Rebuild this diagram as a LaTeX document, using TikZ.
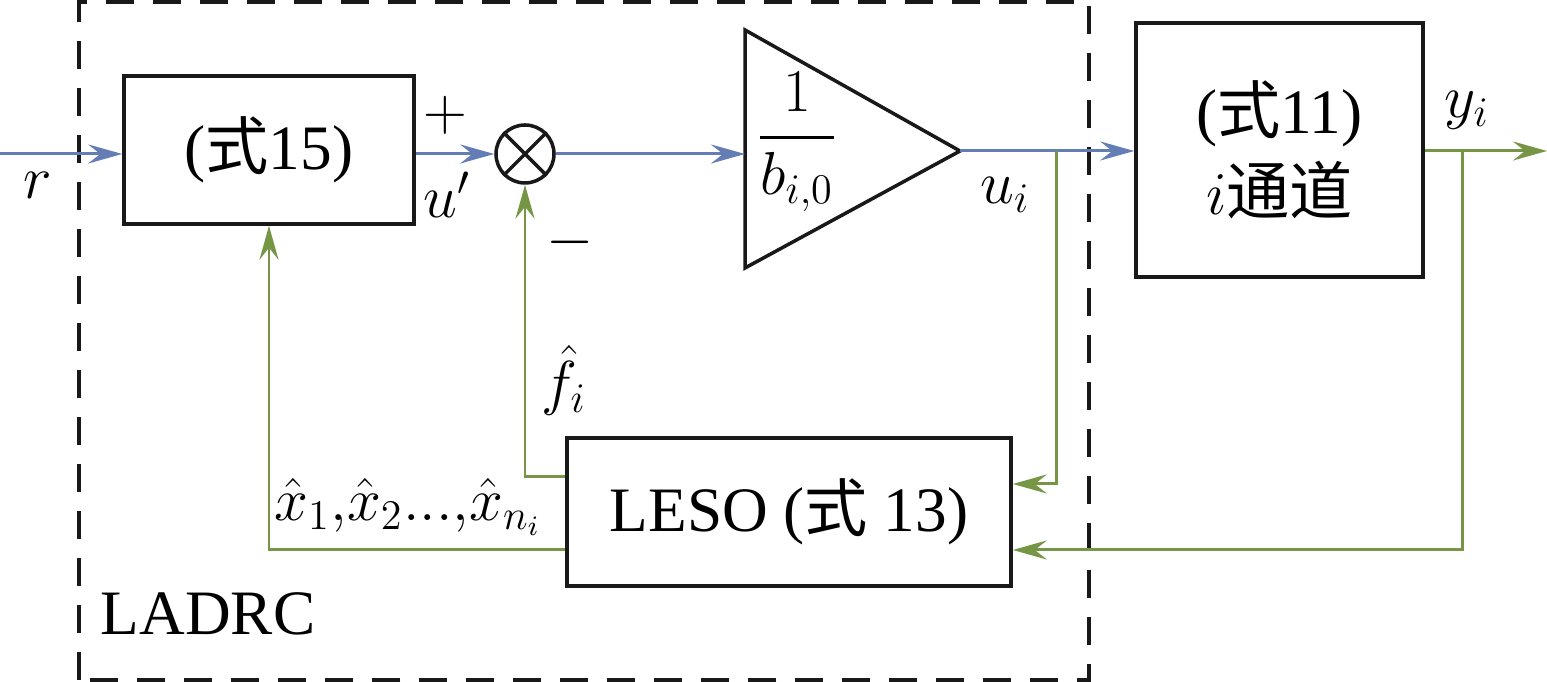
\documentclass[tikz,border=0pt]{standalone}
\usepackage{amsmath}
\usepackage{fontspec}
\setmainfont{Liberation Serif}
\newfontfamily\cjk{Noto Sans CJK SC}
\usepackage{tikz}
\usetikzlibrary{arrows.meta,calc}
\definecolor{sigblue}{RGB}{100,125,180}
\definecolor{fbgreen}{RGB}{118,150,70}

\begin{document}
\begin{tikzpicture}[
    block/.style={draw=black!90, rectangle, line width=1pt, align=center, inner sep=0pt, font=\fontsize{18}{21}\selectfont},
    sumnode/.style={draw=black!90, circle, line width=1pt, minimum size=0.58cm, inner sep=0pt},
    fwd/.style={-{Stealth[length=3.4mm, width=1.9mm, inset=1.2mm]}, line width=0.85pt, draw=sigblue},
    fb/.style={-{Stealth[length=3.4mm, width=1.9mm, inset=1.2mm]}, line width=0.85pt, draw=fbgreen},
    lbl/.style={inner sep=0pt, font=\fontsize{18}{21}\selectfont},
    frame/.style={draw=black!90, line width=0.9pt, dash pattern=on 2.8mm off 1.9mm}
]
    \useasboundingbox (0,0) rectangle (15.47,6.82);

    % LADRC frame
    \draw[frame] (0.79,0.02) rectangle (10.89,6.80);
    \node[lbl] (ladrc) at (2.08,0.68) {LADRC};

    % blocks
    \node[block, minimum width=2.90cm, minimum height=1.48cm] (eq15) at (2.69,5.32) {({\cjk 式}15)};
    \node[sumnode] (sum) at (5.25,5.28) {};
    \draw[line width=1pt, draw=black!90] (sum.45) -- (sum.225) (sum.135) -- (sum.-45);

    \coordinate (gin) at (7.45,5.28);
    \coordinate (gout) at (9.60,5.31);
    \draw[line width=1pt, draw=black!90, line join=miter] (7.45,6.52) -- (7.45,4.14) -- (gout) -- cycle;
    \node[lbl] (gainval) at (7.97,5.40) {$\dfrac{1}{b_{i,0}}$};

    \node[block, minimum width=2.87cm, minimum height=2.54cm] (eq11) at (12.795,5.32) {({\cjk 式}11)\\[2pt]$i${\cjk 通道}};
    \node[block, minimum width=4.44cm, minimum height=1.48cm] (leso) at (7.89,1.70) {LESO ({\cjk 式} 13)};

    % signal path
    \coordinate (rin) at (0,5.28);
    \coordinate (yout) at (15.47,5.31);
    \coordinate (ubr) at (10.56,5.31);
    \coordinate (ybr) at (14.62,5.31);

    \draw[fwd] (rin) -- (eq15.west |- rin);
    \draw[fwd] (eq15.east |- sum) -- (sum.west);
    \draw[fwd] (sum.east) -- (gin);
    \draw[fwd] (gout) -- (eq11.west |- gout);
    \draw[fb] (eq11.east |- yout) -- (yout);

    % feedback
    \draw[fb] (ubr) |- ([yshift=2.8mm]leso.east);
    \draw[fb] (ybr) |- ([yshift=-3.8mm]leso.east);
    \draw[fb] ([yshift=3.5mm]leso.west) -| (sum.south);
    \draw[fb] ([yshift=-3.8mm]leso.west) -| (eq15.south);

    % labels
    \node[lbl] (rlab) at (0.38,4.97) {$r$};
    \node[lbl] (plus) at (4.45,5.67) {$+$};
    \node[lbl] (uplab) at (4.47,4.87) {$u'$};
    \node[lbl] (minus) at (5.70,4.40) {$-$};
    \node[lbl] (uilab) at (10.05,4.87) {$u_i$};
    \node[lbl] (yilab) at (14.67,5.72) {$y_i$};
    \node[lbl] (fhat) at (5.64,3.02) {$\hat{f}_i$};
    \node[lbl, font=\fontsize{17}{20}\selectfont] (xhat) at (4.08,1.75) {$\hat{x}_1{,}\hat{x}_2{\ldotp\!\ldotp\!\ldotp}{,}\hat{x}_{n_i}$};
\end{tikzpicture}
\end{document}
